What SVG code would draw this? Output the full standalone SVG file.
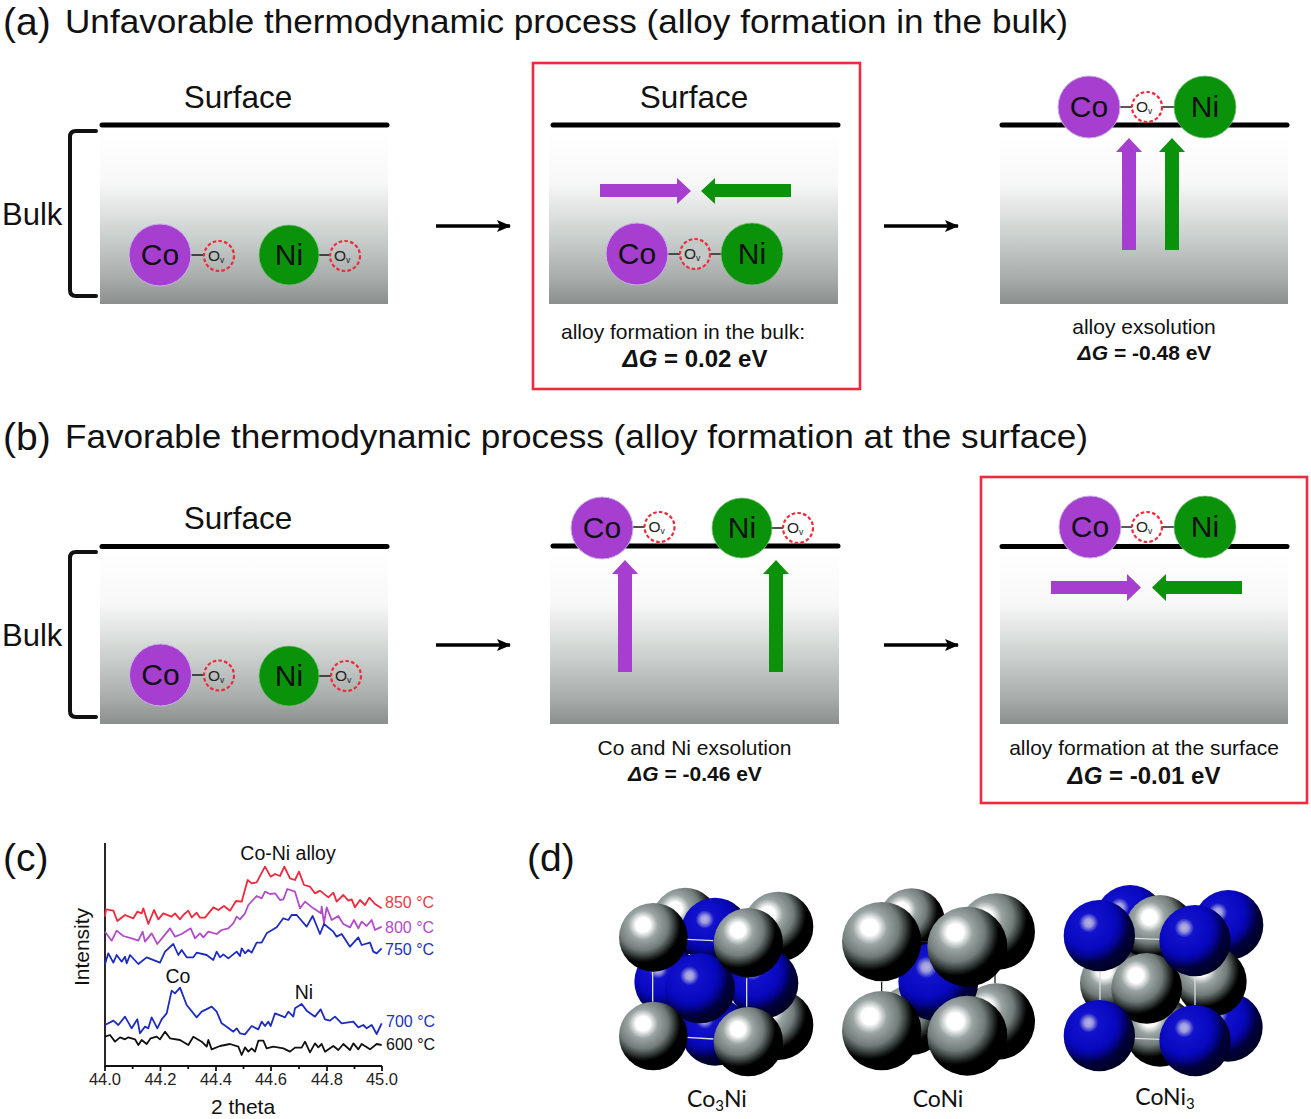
<svg xmlns="http://www.w3.org/2000/svg" width="1311" height="1119" viewBox="0 0 1311 1119">
<style>
text{font-family:"Liberation Sans",Arial,sans-serif;fill:#111}
.h{font-size:33.500px}.lt{font-size:39px}
.sf{font-size:31.500px;text-anchor:middle}
.el{font-size:30px;text-anchor:middle}
.ov{font-size:15.500px;fill:#222}.vs{font-size:8.500px}
.cap{font-size:21px;text-anchor:middle}
.dg{font-weight:bold;text-anchor:middle}
.dg tspan{font-style:italic}
.surf{stroke:#000;stroke-width:5;stroke-linecap:round}
.co{fill:#a63fd0;stroke:#c9b3e6;stroke-width:1}
.ni{fill:#0a930a;stroke:#7fbf7f;stroke-width:.7}
.ovc{fill:none;stroke:#ee2a3c;stroke-width:2.200;stroke-dasharray:3.600 2.200}
.ovw{fill:#fff;stroke:#ee2a3c;stroke-width:2.200;stroke-dasharray:3.600 2.200}
.bond{stroke:#222;stroke-width:1.600}
.pa{fill:#a63fd0}.ga{fill:#0a930a}
.redbox{fill:none;stroke:#ee2a3c;stroke-width:2.600}
.brk{fill:none;stroke:#111;stroke-width:4;stroke-linecap:round;stroke-linejoin:round}
.arr{stroke:#000;stroke-width:3.400;fill:none;marker-end:url(#ah)}
.ax{stroke:#111;stroke-width:1.800;fill:none}
.tick{font-size:16.500px;text-anchor:middle;font-weight:500;fill:#222}
.pl{font-size:19.500px;text-anchor:middle}
.tl{font-size:16px}
.sp{fill:none;stroke-width:5.400;stroke-linejoin:round}
.gs{fill:url(#gsph)}.bs{fill:url(#bsph)}
.lb{stroke:#d8dcdc;stroke-width:4;fill:none}
.db{stroke:#222;stroke-width:4;fill:none}
.mt{font-family:Lato,"Open Sans",sans-serif;font-size:23px;text-anchor:middle}
</style>
<defs>
<linearGradient id="bulk" x1="0" y1="0" x2="0" y2="1">
<stop offset="0" stop-color="#fff"/><stop offset=".3" stop-color="#f8f8f8"/><stop offset=".6" stop-color="#ccd2cf"/><stop offset=".85" stop-color="#a8adab"/><stop offset="1" stop-color="#8a8f8d"/>
</linearGradient>
<radialGradient id="gsph" cx=".35" cy=".32" r=".8" fx=".35" fy=".32">
<stop offset="0" stop-color="#fff"/><stop offset=".13" stop-color="#fff"/><stop offset=".27" stop-color="#9aa4a2"/><stop offset=".46" stop-color="#717b79"/><stop offset=".56" stop-color="#3c4442"/><stop offset=".63" stop-color="#161a19"/><stop offset=".68" stop-color="#000"/><stop offset="1" stop-color="#000"/>
</radialGradient>
<radialGradient id="bsph" cx=".35" cy=".32" r=".8" fx=".35" fy=".32">
<stop offset="0" stop-color="#b4b4e6"/><stop offset=".07" stop-color="#9c9cde"/><stop offset=".17" stop-color="#1212cc"/><stop offset=".46" stop-color="#0808c0"/><stop offset=".58" stop-color="#040490"/><stop offset=".7" stop-color="#00003c"/><stop offset="1" stop-color="#000018"/>
</radialGradient>
<marker id="ah" markerUnits="userSpaceOnUse" markerWidth="14" markerHeight="12" refX="13" refY="6" orient="auto"><path d="M0 0L14 6L0 12L3 6Z" fill="#000"/></marker>
</defs>
<rect width="1311" height="1119" fill="#fff"/>

<g id="titles">
<text class="lt" x="3" y="35">(a)</text>
<text class="h" x="65" y="33" textLength="1003" lengthAdjust="spacingAndGlyphs">Unfavorable thermodynamic process (alloy formation in the bulk)</text>
<text class="lt" x="3" y="450">(b)</text>
<text class="h" x="65" y="448" textLength="1023" lengthAdjust="spacingAndGlyphs">Favorable thermodynamic process (alloy formation at the surface)</text>
<text class="lt" x="3" y="871">(c)</text>
<text class="lt" x="527" y="871">(d)</text>
</g>

<g id="panel-a1">
<rect x="100" y="130" width="288" height="174" fill="url(#bulk)"/>
<line class="surf" x1="102" y1="125" x2="387" y2="125"/>
<text class="sf" x="238" y="108">Surface</text>
<path class="brk" d="M96 131H76Q70 131 70 137V290Q70 296 76 296H96"/>
<text x="2" y="225" font-size="31">Bulk</text>
<line class="bond" x1="190" y1="255" x2="204" y2="255"/><line class="bond" x1="318" y1="255" x2="330" y2="255"/>
<circle class="co" cx="160" cy="255" r="31"/><text class="el" x="160" y="265">Co</text>
<circle class="ni" cx="289" cy="255" r="30"/><text class="el" x="289" y="265">Ni</text>
<circle class="ovc" cx="219" cy="256" r="15"/><text class="ov" x="208" y="261">O<tspan class="vs" dy="2">v</tspan></text>
<circle class="ovc" cx="345" cy="256" r="15"/><text class="ov" x="334" y="261">O<tspan class="vs" dy="2">v</tspan></text>
</g>

<g id="panel-a2">
<rect class="redbox" x="533" y="63" width="327" height="326"/>
<rect x="549" y="130" width="289" height="174" fill="url(#bulk)"/>
<line class="surf" x1="553" y1="125" x2="838" y2="125"/>
<text class="sf" x="694" y="108">Surface</text>
<path class="pa" d="M600 184H677V178L691 191L677 204V197H600Z"/>
<path class="ga" d="M791 184H715V178L701 191L715 204V197H791Z"/>
<line class="bond" x1="667" y1="254" x2="724" y2="254"/>
<circle class="co" cx="637" cy="254" r="31"/><text class="el" x="637" y="264">Co</text>
<circle class="ni" cx="752" cy="254" r="31"/><text class="el" x="752" y="264">Ni</text>
<circle class="ovc" cx="695" cy="254" r="15" style="fill:#c2c9c6"/><text class="ov" x="684" y="259">O<tspan class="vs" dy="2">v</tspan></text>
<text class="cap" x="683" y="339">alloy formation in the bulk:</text>
<text class="dg" x="695" y="367" font-size="24"><tspan>Δ</tspan><tspan>G</tspan> = 0.02 eV</text>
</g>

<g id="panel-a3">
<rect x="1000" y="130" width="288" height="174" fill="url(#bulk)"/>
<line class="surf" x1="1002" y1="125" x2="1287" y2="125"/>
<line class="bond" x1="1119" y1="107" x2="1176" y2="107"/>
<circle class="co" cx="1089" cy="107" r="31"/><text class="el" x="1089" y="117">Co</text>
<circle class="ni" cx="1205" cy="107" r="31"/><text class="el" x="1205" y="117">Ni</text>
<circle class="ovw" cx="1147" cy="107" r="15"/><text class="ov" x="1136" y="112">O<tspan class="vs" dy="2">v</tspan></text>
<path class="pa" d="M1122 250V152H1116L1129 138L1142 152H1136V250Z"/>
<path class="ga" d="M1165 250V152H1159L1172 138L1185 152H1179V250Z"/>
<text class="cap" x="1144" y="334">alloy exsolution</text>
<text class="dg" x="1144.500" y="360" font-size="21"><tspan>Δ</tspan><tspan>G</tspan> = -0.48 eV</text>
</g>

<g id="panel-b1">
<rect x="100" y="551" width="288" height="173" fill="url(#bulk)"/>
<line class="surf" x1="102" y1="546.500" x2="387" y2="546.500"/>
<text class="sf" x="238" y="529">Surface</text>
<path class="brk" d="M96 552H76Q70 552 70 558V711Q70 717 76 717H96"/>
<text x="2" y="646" font-size="31">Bulk</text>
<line class="bond" x1="190" y1="675" x2="204" y2="675"/><line class="bond" x1="318" y1="676" x2="331" y2="676"/>
<circle class="co" cx="160.500" cy="675" r="31"/><text class="el" x="160.500" y="685">Co</text>
<circle class="ni" cx="289" cy="676" r="30"/><text class="el" x="289" y="686">Ni</text>
<circle class="ovc" cx="219" cy="675.500" r="15"/><text class="ov" x="208" y="681">O<tspan class="vs" dy="2">v</tspan></text>
<circle class="ovc" cx="346" cy="676" r="15"/><text class="ov" x="335" y="681">O<tspan class="vs" dy="2">v</tspan></text>
</g>

<g id="panel-b2">
<rect x="550" y="551" width="289" height="173" fill="url(#bulk)"/>
<line class="surf" x1="553" y1="546" x2="838" y2="546"/>
<line class="bond" x1="632" y1="527" x2="645" y2="527"/><line class="bond" x1="771" y1="528" x2="784" y2="528"/>
<circle class="co" cx="602" cy="528" r="31"/><text class="el" x="602" y="538">Co</text>
<circle class="ni" cx="742" cy="528" r="30"/><text class="el" x="742" y="538">Ni</text>
<circle class="ovw" cx="659.500" cy="527" r="15"/><text class="ov" x="648.500" y="532">O<tspan class="vs" dy="2">v</tspan></text>
<circle class="ovw" cx="798" cy="528" r="15"/><text class="ov" x="787" y="533">O<tspan class="vs" dy="2">v</tspan></text>
<path class="pa" d="M618 672V574H612L625 560L638 574H632V672Z"/>
<path class="ga" d="M769 672V574H763L776 560L789 574H783V672Z"/>
<text class="cap" x="694.500" y="755">Co and Ni exsolution</text>
<text class="dg" x="695" y="781" font-size="21"><tspan>Δ</tspan><tspan>G</tspan> = -0.46 eV</text>
</g>

<g id="panel-b3">
<rect class="redbox" x="981" y="477" width="326" height="326"/>
<rect x="1000" y="551" width="288" height="173" fill="url(#bulk)"/>
<line class="surf" x1="1002" y1="546.500" x2="1287" y2="546.500"/>
<line class="bond" x1="1119" y1="527" x2="1176" y2="527"/>
<circle class="co" cx="1090" cy="527" r="31"/><text class="el" x="1090" y="537">Co</text>
<circle class="ni" cx="1205" cy="527" r="31"/><text class="el" x="1205" y="537">Ni</text>
<circle class="ovw" cx="1147" cy="527" r="15"/><text class="ov" x="1136" y="532">O<tspan class="vs" dy="2">v</tspan></text>
<path class="pa" d="M1051 581H1127V574L1141 587.500L1127 601V594H1051Z"/>
<path class="ga" d="M1242 581H1166V574L1152 587.500L1166 601V594H1242Z"/>
<text class="cap" x="1144" y="755">alloy formation at the surface</text>
<text class="dg" x="1144" y="784" font-size="24"><tspan>Δ</tspan><tspan>G</tspan> = -0.01 eV</text>
</g>

<g id="connectors">
<line class="arr" x1="436" y1="226" x2="510" y2="226"/>
<line class="arr" x1="884" y1="226" x2="958" y2="226"/>
<line class="arr" x1="436" y1="645" x2="510" y2="645"/>
<line class="arr" x1="884" y1="645" x2="958" y2="645"/>
</g>

<g id="plot-c">
<path class="ax" d="M105 843V1066H382"/>
<path class="ax" d="M105 1066v5M160.500 1066v5M216 1066v5M271 1066v5M327 1066v5M382 1066v5M132.700 1066v3M188.200 1066v3M243.500 1066v3M299 1066v3M354.500 1066v3"/>
<text class="tick" x="105" y="1085">44.0</text><text class="tick" x="160.500" y="1085">44.2</text><text class="tick" x="216" y="1085">44.4</text><text class="tick" x="271" y="1085">44.6</text><text class="tick" x="327" y="1085">44.8</text><text class="tick" x="382" y="1085">45.0</text>
<text x="243" y="1114" font-size="21" text-anchor="middle">2 theta</text>
<text font-size="21" text-anchor="middle" transform="translate(89 947) rotate(-90)">Intensity</text>
<g transform="translate(0 820) scale(.33333)">
<polyline class="sp" stroke="#f0283c" points="315,290 318,268 340,272 352,303 375,285 400,295 412,275 425,280 430,265 445,312 462,270 475,298 490,280 515,290 525,280 540,298 550,285 565,272 575,292 590,278 600,293 615,293 640,262 655,270 672,258 690,272 708,243 725,245 743,180 755,190 770,187 795,140 812,170 825,162 840,168 853,140 870,175 885,180 897,155 912,195 930,200 945,220 960,212 985,232 1000,218 1010,245 1030,225 1045,242 1055,238 1065,262 1080,240 1095,255 1108,233 1125,252 1145,265"/>
<polyline class="sp" stroke="#b04cc8" points="315,335 335,362 350,332 370,348 395,355 415,362 428,335 435,365 455,340 472,372 490,350 510,325 525,350 545,342 572,325 585,355 600,340 610,352 625,335 650,342 665,330 685,325 700,310 710,290 720,298 735,280 745,255 770,228 785,235 795,215 810,222 825,220 840,240 850,238 862,207 885,215 900,265 915,245 940,265 963,280 965,260 972,310 980,262 995,300 1015,288 1030,312 1050,322 1062,300 1075,325 1085,305 1100,318 1115,300 1125,330 1145,320"/>
<polyline class="sp" stroke="#1c2cc0" points="315,432 325,400 340,428 350,405 365,425 375,410 380,430 390,405 415,432 440,412 480,428 495,395 520,372 535,405 545,390 560,412 580,412 590,398 620,405 640,420 650,395 660,412 670,403 685,415 710,395 720,408 725,385 735,400 745,390 755,398 770,368 785,368 800,340 830,322 850,295 865,300 875,285 890,285 920,320 938,288 960,342 972,312 1000,335 1010,350 1025,342 1050,380 1075,352 1085,375 1110,368 1120,395 1130,400 1145,385"/>
<polyline class="sp" stroke="#1c2cc0" points="315,615 340,602 355,615 375,590 395,625 412,598 420,640 435,620 445,625 455,592 472,625 485,598 500,580 515,512 525,520 540,503 560,555 590,592 605,575 635,560 650,575 665,610 680,620 700,635 710,625 720,640 735,643 755,618 775,628 785,605 795,618 805,605 812,618 825,580 855,592 865,575 880,590 885,565 905,552 920,572 945,590 962,568 975,598 990,602 1005,590 1025,610 1060,605 1075,622 1090,615 1100,625 1115,615 1130,642 1145,610"/>
<polyline class="sp" stroke="#111" points="315,650 330,645 345,665 360,652 375,658 385,652 405,658 415,675 425,660 440,672 452,655 470,650 480,658 495,635 510,655 540,660 565,675 580,650 605,665 620,680 625,660 635,688 660,678 690,672 715,680 725,705 735,682 745,695 755,685 765,695 775,662 790,662 800,685 820,680 850,685 870,695 885,683 905,683 915,665 930,697 945,670 955,682 965,672 975,695 1000,678 1015,690 1030,672 1050,690 1060,670 1075,688 1085,672 1110,688 1130,672 1145,675"/>
</g>
<text class="pl" x="288" y="860">Co-Ni alloy</text>
<text class="pl" x="178" y="983">Co</text>
<text class="pl" x="304" y="999">Ni</text>
<text class="tl" x="385" y="908" style="fill:#ee3a48">850 °C</text>
<text class="tl" x="385" y="933" style="fill:#b04cc8">800 °C</text>
<text class="tl" x="385" y="955" style="fill:#2233bb">750 °C</text>
<text class="tl" x="386" y="1027" style="fill:#2233bb">700 °C</text>
<text class="tl" x="386" y="1050">600 °C</text>
</g>

<g id="crystal-co3ni">
<g transform="translate(590 860) scale(.33333)">
<circle class="gs" cx="285" cy="183" r="100"/><circle class="gs" cx="565" cy="200" r="105"/><circle class="gs" cx="565" cy="495" r="105"/>
<circle class="bs" cx="375" cy="215" r="102"/><circle class="bs" cx="375" cy="515" r="102"/>
<circle class="bs" cx="235" cy="365" r="102"/><circle class="bs" cx="520" cy="370" r="105"/>
<path class="lb" d="M290 238L370 242M188 335V425M470 355V440M290 532L370 537"/>
<circle class="bs" cx="330" cy="385" r="105"/>
<circle class="gs" cx="190" cy="232" r="103"/><circle class="gs" cx="475" cy="248" r="104"/>
<circle class="gs" cx="190" cy="528" r="103"/><circle class="gs" cx="475" cy="545" r="104"/>
</g>
<text class="mt" x="717" y="1107">Co<tspan font-size="15" dy="4">3</tspan><tspan dy="-4">Ni</tspan></text>
</g>

<g id="crystal-coni">
<g transform="translate(590 860) scale(.33333)">
<circle class="gs" cx="965" cy="185" r="100"/><circle class="gs" cx="1220" cy="215" r="115"/><circle class="gs" cx="1220" cy="485" r="115"/><circle class="gs" cx="965" cy="480" r="105"/>
<path class="db" d="M875 365V395M1215 340V370M875 245H1130M875 520H1130"/>
<circle class="bs" cx="1045" cy="365" r="120"/>
<circle class="gs" cx="875" cy="245" r="119"/><circle class="gs" cx="1132" cy="260" r="120"/>
<circle class="gs" cx="875" cy="512" r="119"/><circle class="gs" cx="1132" cy="527" r="120"/>
</g>
<text class="mt" x="938" y="1107">CoNi</text>
</g>

<g id="crystal-coni3">
<g transform="translate(1040 870) scale(.33333)">
<circle class="bs" cx="270" cy="150" r="105"/><circle class="bs" cx="565" cy="165" r="105"/><circle class="bs" cx="565" cy="472" r="103"/>
<circle class="gs" cx="360" cy="180" r="105"/><circle class="gs" cx="360" cy="485" r="105"/>
<circle class="gs" cx="225" cy="340" r="105"/><circle class="gs" cx="515" cy="335" r="105"/>
<path class="lb" d="M285 205L360 208M180 305V390M465 320V405M285 505L360 508"/>
<circle class="gs" cx="320" cy="355" r="106"/>
<circle class="bs" cx="178" cy="197" r="107"/><circle class="bs" cx="465" cy="212" r="107"/>
<circle class="bs" cx="178" cy="497" r="107"/><circle class="bs" cx="465" cy="512" r="107"/>
</g>
<text class="mt" x="1165" y="1105">CoNi<tspan font-size="15" dy="4">3</tspan></text>
</g>
</svg>
